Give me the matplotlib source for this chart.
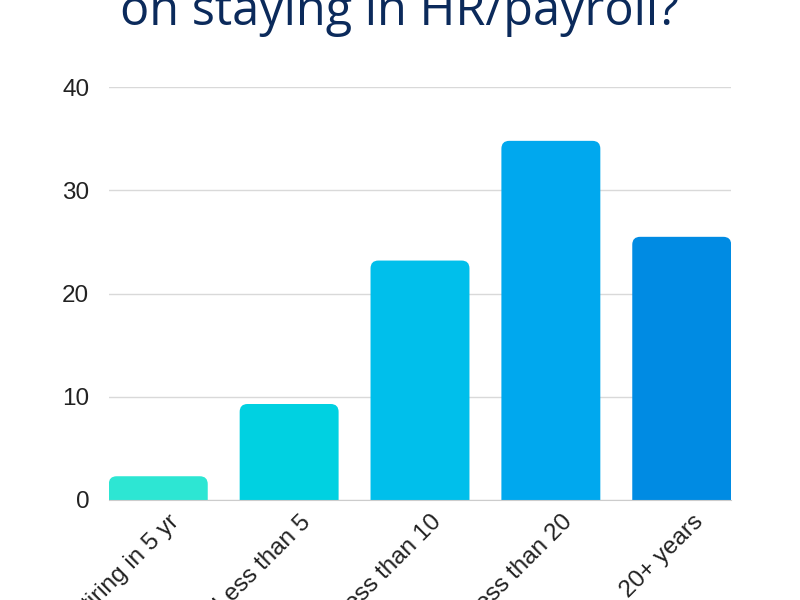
import matplotlib.pyplot as plt
import matplotlib.transforms as mtransforms
from matplotlib.patches import FancyBboxPatch

# answers and share of respondents (%)
categories = ["Retiring in 5 yr", "Less than 5", "Less than 10", "Less than 20", "20+ years"]
values = [2.3, 9.3, 23.2, 34.8, 25.5]
bar_colors = ["#2de6d3", "#00d1e1", "#00bfeb", "#00a8ee", "#008be3"]
yticks = [0, 10, 20, 30, 40]

plt.rcParams["font.family"] = ["Liberation Sans", "DejaVu Sans"]

fig = plt.figure(figsize=(8, 6), dpi=100)
ax = fig.add_axes([0.136, 0.1667, 0.778, 0.688])

bars = ax.bar(range(len(categories)), values, width=0.756, color=bar_colors)

# swap plain bars for ones with rounded top corners
for bar, col in zip(bars, bar_colors):
    x0, w, h = bar.get_x(), bar.get_width(), bar.get_height()
    patch = FancyBboxPatch((x0, -1.0), w, h + 1.0,
                           boxstyle="round,pad=0,rounding_size=0.06",
                           mutation_aspect=12.7, facecolor=col,
                           edgecolor="none", zorder=2)
    ax.add_patch(patch)
    bar.remove()

ax.set_xlim(-0.378, len(categories) - 1 + 0.378)
ax.set_ylim(0, 40)
ax.set_yticks(yticks)
ax.set_xticks(range(len(categories)))
ax.set_xticklabels(categories, rotation=45, ha="right", va="top",
                   rotation_mode="anchor")

ax.grid(axis="y", color="#d9d9d9", linewidth=1)
ax.set_axisbelow(True)
for s in ["top", "right", "left"]:
    ax.spines[s].set_visible(False)
ax.spines["bottom"].set_color("#cccccc")
ax.tick_params(axis="both", length=0, labelsize=17.5, colors="#222222")
ax.tick_params(axis="y", pad=14)
ax.tick_params(axis="x", pad=8)

# nudge x labels right a little
offset = mtransforms.ScaledTranslation(10 / 100, 0, fig.dpi_scale_trans)
for lbl in ax.get_xticklabels():
    lbl.set_transform(lbl.get_transform() + offset)

fig.text(0.5, 0.958, "on staying in HR/payroll?", ha="center", va="baseline",
         fontsize=35, color="#0b2a5b", family=["Open Sans", "DejaVu Sans"])

fig.savefig("out.png", dpi=100)
